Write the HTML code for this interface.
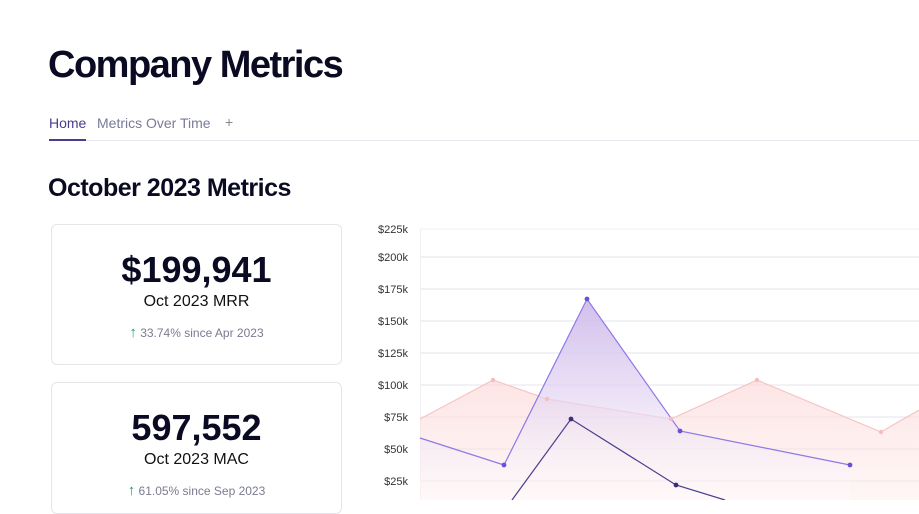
<!DOCTYPE html>
<html><head><style>
body{margin:0;width:919px;height:500px;overflow:hidden;background:#fff;font-family:"Liberation Sans",sans-serif;position:relative}
.a{position:absolute}
.card{position:absolute;left:51px;width:289px;border:1px solid #e5e5ea;border-radius:6px;background:#fff}
.big{position:absolute;width:100%;text-align:center;font-weight:bold;color:#0a0a22;font-size:36px}
.lbl{position:absolute;width:100%;text-align:center;color:#111;font-size:16px}
.chg{position:absolute;width:100%;text-align:center;color:#7a7a90;font-size:12px}
.yl{position:absolute;right:511px;font-size:11px;color:#333}
</style></head><body>
<div class="a" style="left:48px;top:44px;font-size:38px;font-weight:bold;color:#0a0a22;letter-spacing:-1.5px">Company Metrics</div>
<div class="a" style="left:49px;top:115px;font-size:14px;color:#4a3d8f">Home</div>
<div class="a" style="left:97px;top:115px;font-size:14px;color:#7a7a9a">Metrics Over Time</div>
<div class="a" style="left:225px;top:114px;font-size:14px;color:#888">+</div>
<div class="a" style="left:49px;top:140px;width:870px;height:1px;background:#e8e8ee"></div>
<div class="a" style="left:49px;top:139px;width:37px;height:2px;background:#4a3d8f"></div>
<div class="a" style="left:48px;top:174px;font-size:25px;font-weight:bold;color:#0a0a22;letter-spacing:-0.5px">October 2023 Metrics</div>
<div class="card" style="top:224px;height:139px">
<div class="big" style="top:24px">$199,941</div>
<div class="lbl" style="top:68px">Oct 2023 MRR</div>
<div class="chg" style="top:99px"><span style="color:#1aa36b;font-size:15px">↑</span> 33.74% since Apr 2023</div></div>
<div class="card" style="top:382px;height:130px">
<div class="big" style="top:24px">597,552</div>
<div class="lbl" style="top:68px">Oct 2023 MAC</div>
<div class="chg" style="top:99px"><span style="color:#1aa36b;font-size:15px">↑</span> 61.05% since Sep 2023</div></div>
<div class="yl" style="top:224px">$225k</div>
<div class="yl" style="top:252px">$200k</div>
<div class="yl" style="top:284px">$175k</div>
<div class="yl" style="top:316px">$150k</div>
<div class="yl" style="top:348px">$125k</div>
<div class="yl" style="top:380px">$100k</div>
<div class="yl" style="top:412px">$75k</div>
<div class="yl" style="top:444px">$50k</div>
<div class="yl" style="top:476px">$25k</div>
<svg class="a" style="left:0;top:0" width="919" height="500">
<defs>
<linearGradient id="gp" x1="0" y1="0" x2="0" y2="1"><stop offset="0" stop-color="#fbd3d3" stop-opacity=".6"/><stop offset="1" stop-color="#fde8e6" stop-opacity=".4"/></linearGradient>
<linearGradient id="gv" gradientUnits="userSpaceOnUse" x1="0" y1="299" x2="0" y2="500"><stop offset="0" stop-color="#c9b3e8" stop-opacity=".85"/><stop offset=".5" stop-color="#e4d6f3" stop-opacity=".7"/><stop offset="1" stop-color="#fff" stop-opacity=".3"/></linearGradient>
</defs>
<g stroke="#e6e6ee" stroke-width="1">
<line x1="420" y1="229" x2="919" y2="229" stroke="#f2f2f6"/><line x1="420" y1="257" x2="919" y2="257"/><line x1="420" y1="289" x2="919" y2="289"/><line x1="420" y1="321" x2="919" y2="321"/><line x1="420" y1="353" x2="919" y2="353"/><line x1="420" y1="385" x2="919" y2="385"/><line x1="420" y1="417" x2="919" y2="417"/><line x1="420" y1="449" x2="919" y2="449"/><line x1="420" y1="481" x2="919" y2="481"/>
<line x1="420.5" y1="229" x2="420.5" y2="500" stroke="#f0f0f4"/>
</g>
<polygon points="420,419 493,380 547,399 671,419 757,380 881,432 919,410 919,500 420,500" fill="url(#gp)"/>
<polyline points="420,419 493,380 547,399 671,419 757,380 881,432 919,410" fill="none" stroke="#f7c4c4" stroke-width="1.2"/>
<polygon points="420,438 504,465 587,299 680,431 850,465 850,500 420,500" fill="url(#gv)"/>
<polyline points="420,438 504,465 587,299 680,431 850,465" fill="none" stroke="#8f78e6" stroke-width="1.2"/>
<polyline points="512,500 571,419 676,485 725,500" fill="none" stroke="#4a3d8f" stroke-width="1.2"/>
<g fill="#f7bcbc"><circle cx="493" cy="380" r="2.2"/><circle cx="547" cy="399" r="2.2"/><circle cx="671" cy="419" r="2.2"/><circle cx="757" cy="380" r="2.2"/><circle cx="881" cy="432" r="2.2"/></g>
<g fill="#6a4fd8"><circle cx="504" cy="465" r="2.4"/><circle cx="587" cy="299" r="2.4"/><circle cx="680" cy="431" r="2.4"/><circle cx="850" cy="465" r="2.4"/></g>
<g fill="#3b2f7a"><circle cx="571" cy="419" r="2.4"/><circle cx="676" cy="485" r="2.4"/></g>
</svg>
</body></html>
